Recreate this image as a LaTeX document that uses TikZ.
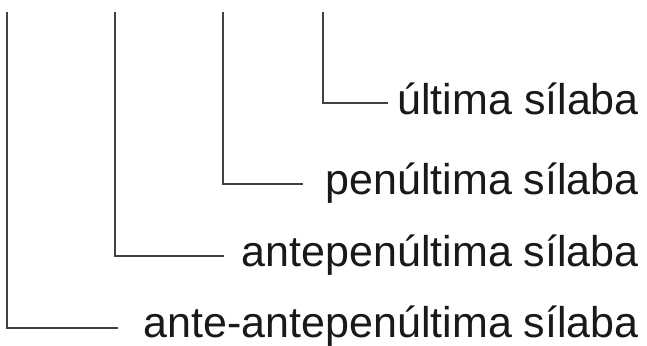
\documentclass[tikz,border=0pt]{standalone}
\usepackage{fontspec}
\setmainfont{Liberation Sans}
\tikzstyle{every node}=[inner sep=0pt,anchor=base east,text=black!90,font=\fontsize{43}{50}\selectfont]
\tikzstyle{bracket}=[line width=1.2pt,draw=black!75]

\begin{document}
\begin{tikzpicture}[x=1pt,y=-1pt]
\useasboundingbox (0,0) rectangle (647,345);
\draw (639,114)node (ult){última sílaba};
\draw (639,194)node (pen){penúltima sílaba};
\draw (639,266)node (ant){antepenúltima sílaba};
\draw (639,337)node (aan){ante-antepenúltima sílaba};
\coordinate (tult) at (323,12);
\coordinate (tpen) at (223,12);
\coordinate (tant) at (115,12);
\coordinate (taan) at (7,12);
\draw[bracket] (tult) |- ([shift={(-9,-11)}]ult.base west);
\draw[bracket] (tpen) |- ([shift={(-22,-10)}]pen.base west);
\draw[bracket] (tant) |- ([shift={(-18,-10)}]ant.base west);
\draw[bracket] (taan) |- ([shift={(-26,-9)}]aan.base west);
\end{tikzpicture}
\end{document}
